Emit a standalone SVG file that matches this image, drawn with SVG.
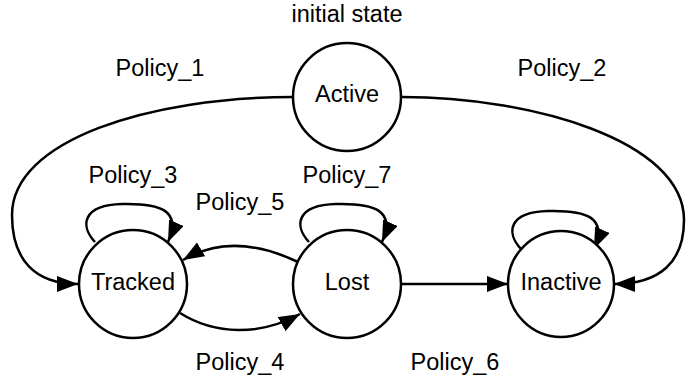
<svg xmlns="http://www.w3.org/2000/svg" width="686" height="381" viewBox="0 0 686 381">
<style>
.node circle{fill:#fff;stroke:#000;stroke-width:2.5}
text{font-family:"Liberation Sans",Arial,sans-serif;font-size:23.5px;fill:#000;text-anchor:middle}
.edge{fill:none;stroke:#000;stroke-width:2.5}
</style>
<defs>
<marker id="arr" markerUnits="userSpaceOnUse" markerWidth="24" markerHeight="18" refX="21" refY="8" orient="auto">
<path d="M0,0 L21,8 L0,16 Z" fill="#000"/>
</marker>
</defs>
<rect width="686" height="381" fill="#fff"/>
<g id="connectors">
<path class="edge" d="M293,97 C150,97 12,140 12,215 C12,260 35,284 78,284" marker-end="url(#arr)"/>
<path class="edge" d="M402,97 C530,97 684,140 684,220 C684,262 660,284 614,284" marker-end="url(#arr)"/>
<path class="edge" d="M400,284 L508,284" marker-end="url(#arr)"/>
<path class="edge" d="M298,262 C260,244 220,238 183,260" marker-end="url(#arr)"/>
<path class="edge" d="M180,313 C215,335 260,336 300,314" marker-end="url(#arr)"/>
<path class="edge" d="M95,242 C80,226 82,205 122,204 C160,203 182,210 168,242" marker-end="url(#arr)"/>
<path class="edge" d="M309,242 C294,226 296,205 336,204 C374,203 396,210 382,242" marker-end="url(#arr)"/>
<path class="edge" d="M521,249 C506,233 508,212 548,211 C586,210 608,217 594,249" marker-end="url(#arr)"/>
</g>
<g id="Active" class="node"><circle cx="347" cy="97" r="54"/><text x="347" y="102">Active</text></g>
<g id="Tracked" class="node"><circle cx="133" cy="284" r="54"/><text x="133" y="290">Tracked</text></g>
<g id="Lost" class="node"><circle cx="347" cy="284" r="54"/><text x="347" y="290">Lost</text></g>
<g id="Inactive" class="node"><circle cx="561" cy="284" r="53"/><text x="561" y="290">Inactive</text></g>
<g id="labels">
<text x="347" y="22">initial state</text>
<text x="160" y="76">Policy_1</text>
<text x="562" y="76">Policy_2</text>
<text x="133" y="183">Policy_3</text>
<text x="347" y="183">Policy_7</text>
<text x="240" y="210">Policy_5</text>
<text x="240" y="370">Policy_4</text>
<text x="455" y="370">Policy_6</text>
</g>
</svg>
